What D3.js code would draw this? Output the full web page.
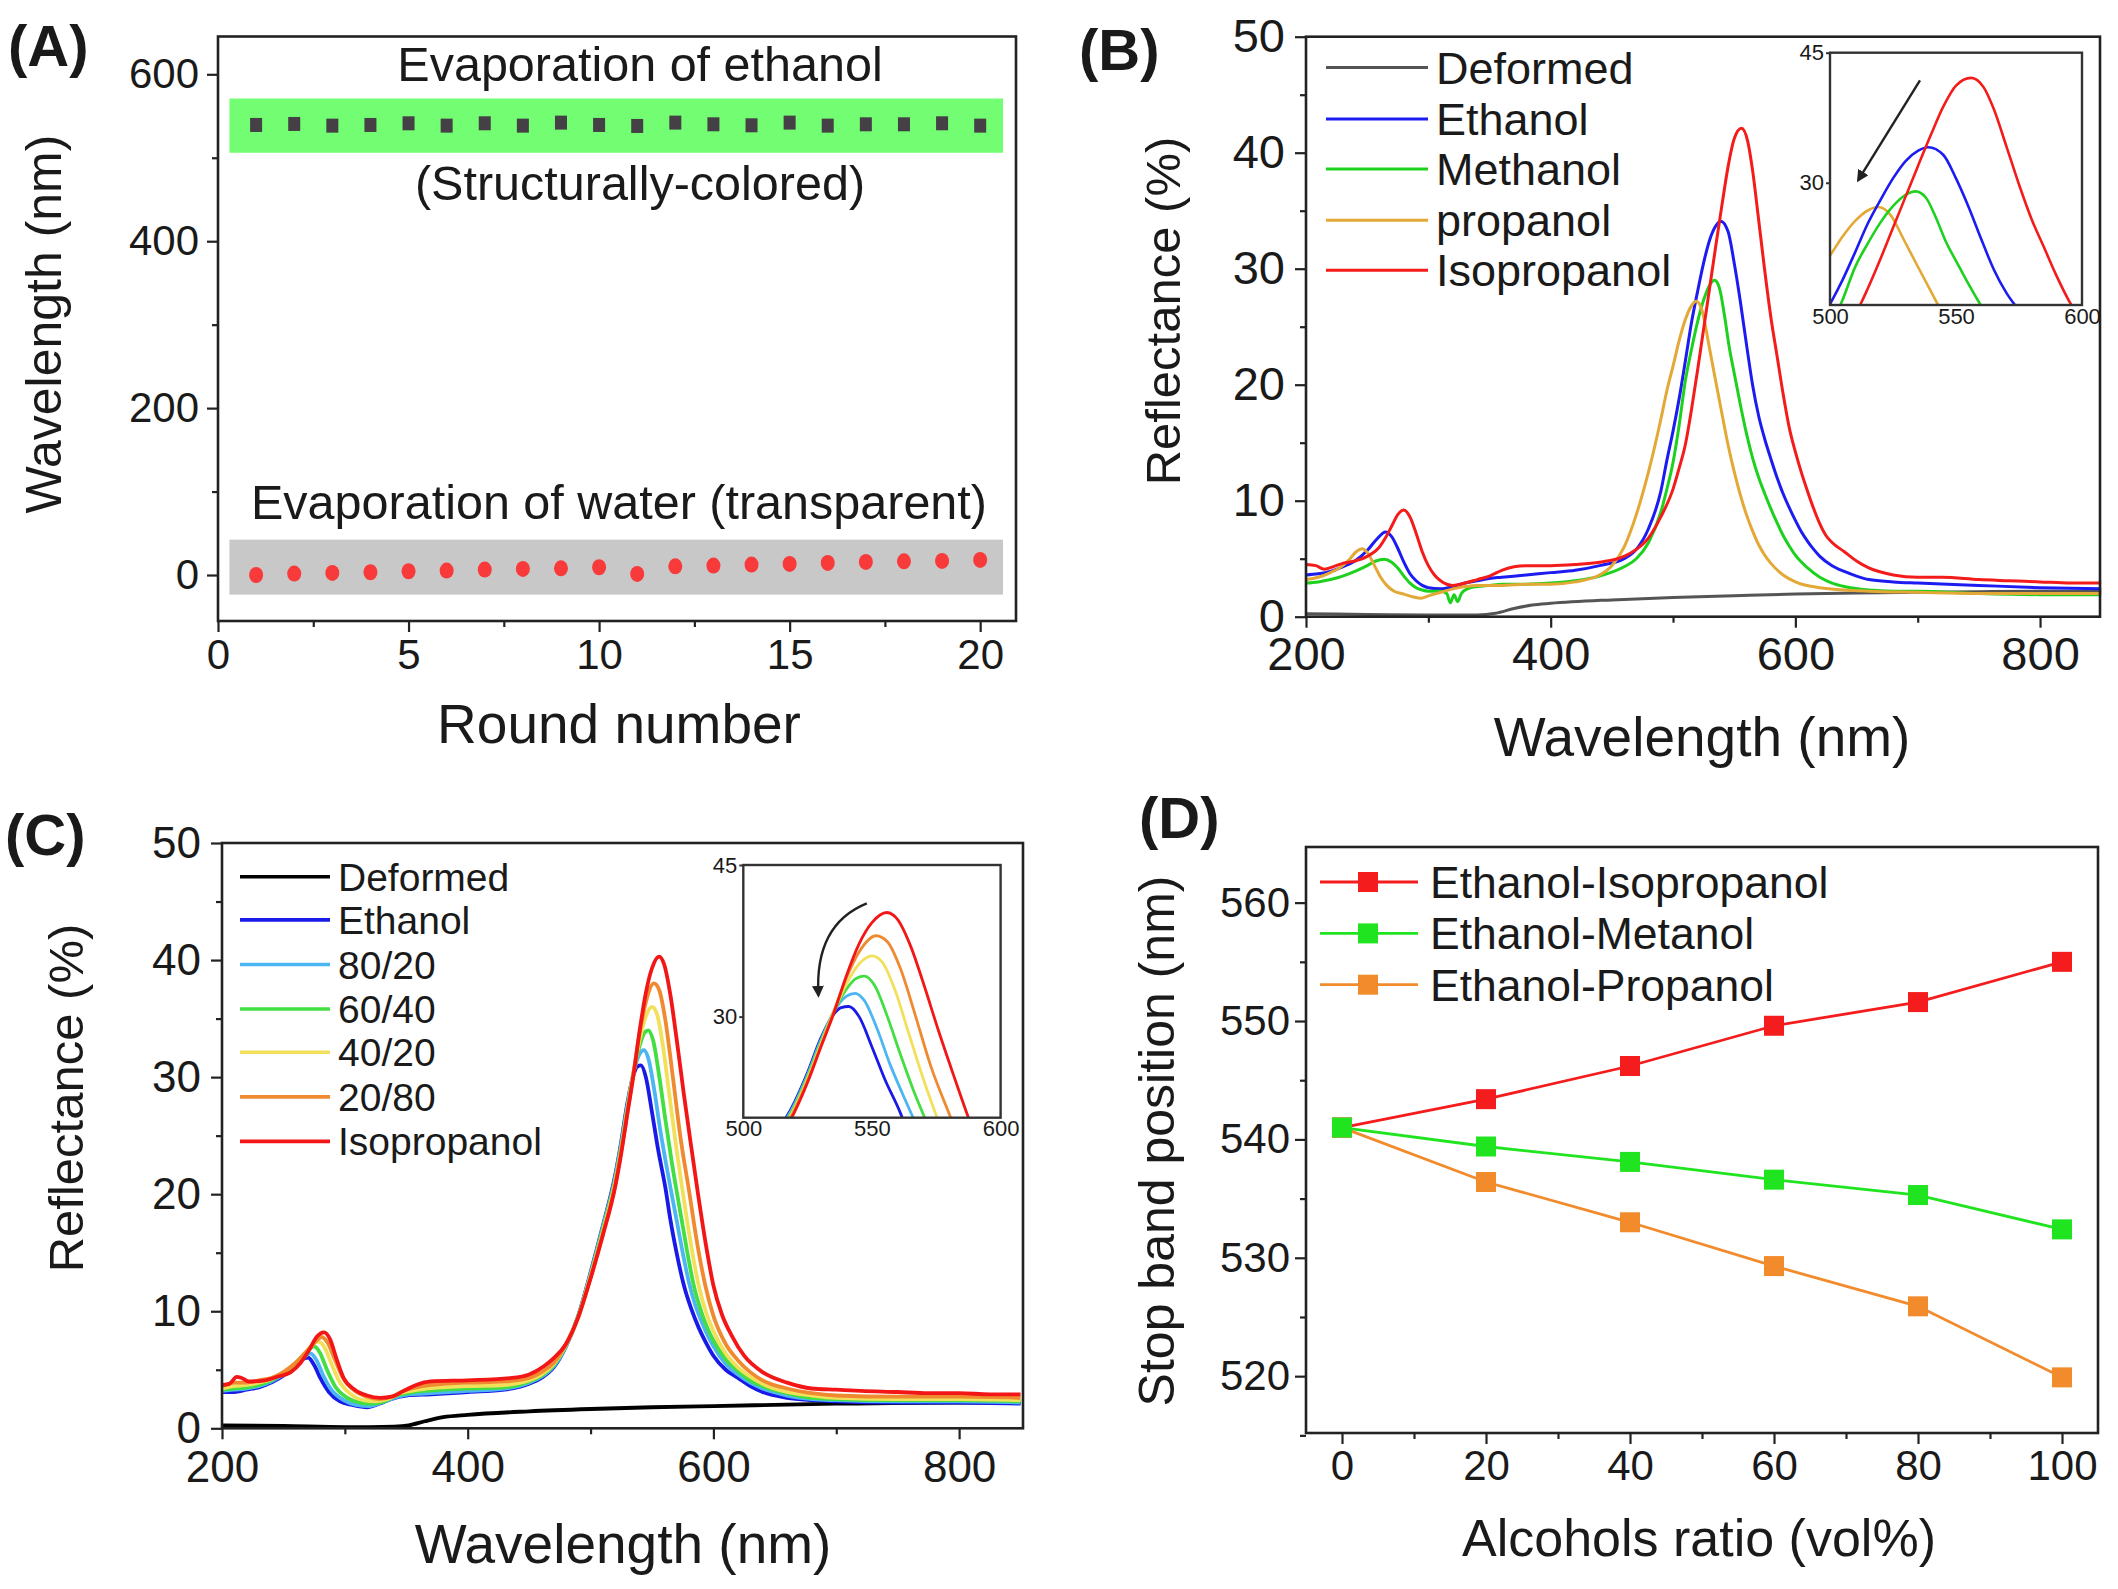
<!DOCTYPE html>
<html><head><meta charset="utf-8">
<script src="https://cdn.jsdelivr.net/npm/d3@7"></script>
<style>
body{margin:0;background:#fff;}
svg{display:block;}
text{font-family:"Liberation Sans",Arial,Helvetica,sans-serif;fill:#1a1a1a;}
</style>
</head><body>
<svg id="fig" width="2118" height="1589"></svg>
<script>
// ---------------- DATA ----------------
// Panel A
const roundNumbers = [1,2,3,4,5,6,7,8,9,10,11,12,13,14,15,16,17,18,19,20];
const ethanolEvap = [539.3,540.5,538.5,539.3,541.3,538.5,541.3,538.5,542.1,539.3,538.1,542.1,540.1,538.9,542.1,538.5,540.1,540.1,541.3,538.5];
const waterEvap = [0,1.7,2.5,3.3,4.5,5.3,6.5,7.3,8,9.3,1.3,10.4,11.3,12.5,13.3,14.5,15.7,16.4,16.9,18.1];
const greenBand = [0.3,20.6,506,571];
const grayBand = [0.3,20.6,-23.5,42.4];
const aXTicks = [0,5,10,15,20];
const aYTicks = [0,200,400,600];

// Panel B  [wavelength nm, reflectance %]
const bNames = ["Deformed","Ethanol","Methanol","propanol","Isopropanol"];
const bColors = ["#555555","#1c1cf2","#1fd11f","#e3a835","#f41b1b"];
const bDeformed = [[200,0.25],[250,0.2],[300,0.15],[340,0.15],[355,0.3],[370,0.7],[385,1.0],[400,1.15],[450,1.45],[500,1.65],[550,1.8],[600,1.95],[650,2.05],[700,2.1],[750,2.15],[800,2.2],[850,2.2]];
const bEthanol = [[200,3.6],[210,3.7],[220,3.9],[230,4.3],[240,4.8],[250,5.7],[258,6.7],[265,7.3],[270,6.9],[275,5.9],[280,4.7],[285,3.7],[290,3.1],[295,2.7],[300,2.5],[310,2.4],[320,2.6],[330,2.9],[340,3.1],[350,3.3],[360,3.4],[380,3.6],[400,3.8],[420,4.0],[440,4.4],[460,5.0],[470,5.8],[480,7.6],[490,10.8],[495,13.5],[500,16.0],[505,18.8],[510,22.0],[515,25.3],[520,28.0],[525,30.5],[530,32.5],[535,33.7],[539,34.1],[545,33.2],[550,30.5],[555,27.2],[560,23.5],[565,20.0],[570,17.3],[575,15.3],[580,13.6],[585,12.0],[590,10.6],[595,9.4],[600,8.3],[605,7.3],[610,6.5],[615,5.8],[620,5.2],[630,4.4],[640,3.9],[650,3.5],[660,3.2],[680,3.0],[700,2.9],[750,2.7],[800,2.5],[850,2.4]];
const bMethanol = [[200,2.9],[210,3.0],[220,3.2],[230,3.5],[240,3.9],[250,4.4],[257,4.8],[264,4.95],[270,4.7],[275,4.2],[280,3.5],[285,2.9],[290,2.5],[295,2.3],[300,2.2],[310,2.2],[315,2.0],[318,1.2],[321,1.9],[324,1.3],[327,2.0],[332,2.4],[340,2.6],[350,2.7],[360,2.8],[380,2.8],[400,2.9],[420,3.1],[440,3.5],[460,4.3],[470,5.0],[480,6.4],[490,9.0],[495,11.0],[500,13.3],[505,16.5],[510,20.3],[515,23.0],[520,25.4],[525,27.3],[530,28.6],[534,29.0],[538,28.3],[542,26.0],[546,23.2],[550,21.0],[555,18.3],[560,15.8],[565,13.7],[570,12.0],[575,10.6],[580,9.3],[585,8.1],[590,7.0],[595,6.1],[600,5.3],[610,4.2],[620,3.4],[630,2.9],[640,2.6],[660,2.3],[680,2.2],[700,2.2],[750,2.0],[800,1.9],[850,1.9]];
const bPropanol = [[200,3.2],[210,3.4],[220,3.8],[230,4.4],[236,5.0],[241,5.6],[246,5.85],[251,5.4],[256,4.4],[261,3.4],[266,2.7],[272,2.2],[280,1.95],[288,1.7],[294,1.6],[300,1.8],[310,2.1],[320,2.4],[330,2.6],[340,2.7],[360,2.7],[380,2.8],[400,2.8],[420,3.0],[440,3.6],[450,4.4],[460,6.0],[470,8.8],[480,12.5],[490,17.0],[495,19.5],[500,21.6],[505,23.8],[510,25.6],[515,26.8],[519,27.2],[524,26.3],[529,23.6],[534,20.8],[540,17.5],[545,14.8],[550,12.5],[555,10.5],[560,8.8],[565,7.4],[570,6.2],[575,5.3],[580,4.6],[590,3.6],[600,3.0],[620,2.5],[640,2.3],[660,2.2],[700,2.1],[750,2.0],[800,2.0],[850,2.0]];
const bIsopropanol = [[200,4.5],[208,4.4],[215,4.1],[222,4.3],[230,4.6],[240,4.8],[250,5.2],[260,6.0],[265,6.8],[270,7.8],[275,8.8],[280,9.2],[285,8.6],[290,7.2],[295,5.6],[300,4.4],[305,3.6],[310,3.1],[320,2.7],[330,2.9],[340,3.2],[350,3.5],[360,4.0],[370,4.3],[380,4.4],[400,4.4],[420,4.5],[440,4.7],[460,5.2],[470,5.8],[480,6.8],[490,8.6],[500,11.0],[505,12.8],[510,14.8],[515,17.8],[520,21.2],[525,24.8],[530,28.4],[535,32.0],[540,35.5],[545,38.8],[550,41.2],[556,42.1],[561,41.0],[565,38.5],[570,34.2],[575,29.8],[580,25.8],[585,22.5],[590,19.2],[595,16.3],[600,14.2],[605,12.4],[610,10.8],[615,9.3],[620,8.0],[625,7.0],[630,6.4],[640,5.6],[650,4.8],[660,4.2],[680,3.6],[700,3.4],[720,3.4],[750,3.2],[775,3.1],[800,3.0],[825,2.9],[850,2.9]];

// Panel C
const cNames = ["Deformed","Ethanol","80/20","60/40","40/20","20/80","Isopropanol"];
const cColors = ["#000000","#1a1ae8","#4cb6f2","#42de42","#f2e05a","#f08a30","#f31616"];
const cDeformed = [[200,0.25],[250,0.2],[300,0.1],[340,0.15],[352,0.25],[365,0.6],[380,0.95],[400,1.15],[450,1.45],[500,1.65],[550,1.8],[600,1.9],[700,2.1],[800,2.2],[850,2.2]];
const cEthanol = [[200,3.1],[210,3.1],[220,3.3],[230,3.5],[240,3.9],[250,4.5],[258,5.3],[265,5.9],[270,6.05],[275,5.4],[280,4.3],[287,3.1],[296,2.3],[306,2.0],[318,1.8],[328,2.1],[338,2.5],[350,2.8],[370,2.9],[400,3.1],[430,3.3],[450,3.8],[460,4.3],[470,5.2],[480,7.0],[490,9.6],[500,13.3],[510,17.3],[520,21.6],[525,24.5],[530,27.8],[535,30.2],[538,30.9],[541,31.0],[545,30.0],[550,27.0],[555,23.8],[561,20.5],[565,17.8],[570,15.0],[576,12.2],[582,10.2],[588,8.6],[594,7.3],[600,6.2],[610,5.0],[620,4.3],[630,3.6],[640,3.1],[660,2.6],[680,2.4],[700,2.3],[750,2.2],[800,2.2],[850,2.1]];
const c8020 = [[200,3.2],[210,3.3],[220,3.4],[230,3.6],[240,4.0],[250,4.6],[260,5.4],[267,6.1],[272,6.4],[277,5.8],[282,4.6],[289,3.3],[299,2.4],[309,2.0],[320,1.9],[330,2.2],[340,2.6],[352,2.9],[370,3.0],[400,3.2],[430,3.4],[450,3.9],[460,4.4],[470,5.3],[480,7.0],[490,9.6],[500,13.2],[510,17.2],[520,21.4],[525,24.3],[530,27.6],[535,30.4],[540,32.0],[543.5,32.3],[547,31.6],[552,28.8],[557,25.3],[562,22.3],[566,20.0],[570,17.8],[575,15.0],[580,12.5],[585,10.6],[590,9.2],[595,8.0],[600,7.0],[610,5.5],[620,4.6],[630,3.9],[640,3.4],[660,2.8],[680,2.5],[700,2.4],[750,2.3],[800,2.3],[850,2.2]];
const c6040 = [[200,3.3],[210,3.4],[220,3.5],[230,3.7],[240,4.1],[250,4.7],[260,5.5],[268,6.4],[275,7.0],[280,6.4],[285,5.1],[292,3.6],[302,2.6],[312,2.2],[322,2.1],[332,2.3],[342,2.8],[356,3.1],[380,3.3],[400,3.4],[430,3.5],[450,4.0],[460,4.5],[470,5.4],[480,7.1],[490,9.6],[500,13.1],[510,17.0],[520,21.2],[525,24.1],[530,27.4],[535,30.4],[540,32.7],[544,33.8],[547,34.0],[551,33.1],[556,30.0],[561,26.3],[566,22.8],[570.5,20.0],[575,17.3],[580,14.3],[584,12.2],[590,10.0],[595,8.6],[600,7.5],[610,5.9],[620,4.9],[630,4.1],[640,3.6],[660,3.0],[680,2.6],[700,2.5],[750,2.4],[800,2.4],[850,2.3]];
const c4020 = [[200,3.4],[210,3.6],[220,3.7],[230,3.9],[240,4.2],[250,4.8],[260,5.6],[270,6.7],[278,7.4],[283,7.0],[288,5.8],[295,4.1],[305,2.9],[315,2.4],[325,2.3],[335,2.5],[345,3.0],[360,3.3],[380,3.5],[400,3.6],[430,3.7],[450,4.1],[460,4.6],[470,5.5],[480,7.1],[490,9.5],[500,13.0],[510,16.8],[520,21.0],[525,23.9],[530,27.2],[535,30.4],[540,33.2],[545,35.2],[550,36.0],[554,35.4],[559,32.6],[564,28.6],[570,23.8],[575.3,20.0],[580,16.8],[588,12.2],[594,9.9],[600,8.3],[610,6.4],[620,5.2],[630,4.4],[640,3.8],[660,3.1],[680,2.8],[700,2.6],[750,2.5],[800,2.5],[850,2.4]];
const c2080 = [[200,3.6],[210,3.9],[220,3.9],[230,4.1],[240,4.3],[250,4.8],[260,5.6],[270,6.7],[276,7.4],[281,7.8],[286,7.3],[291,6.1],[298,4.4],[308,3.2],[318,2.7],[328,2.5],[338,2.7],[348,3.2],[363,3.6],[380,3.8],[400,3.9],[430,4.0],[450,4.3],[460,4.8],[470,5.6],[480,7.2],[490,9.5],[500,12.9],[510,16.6],[520,20.8],[525,23.7],[530,27.0],[535,30.4],[540,33.8],[545,36.4],[551.6,38.0],[556,37.4],[561,34.8],[567,30.0],[573,25.0],[580.6,20.0],[586,16.3],[593.4,12.2],[600,9.6],[610,7.2],[620,5.8],[630,4.8],[640,4.1],[660,3.4],[680,3.0],[700,2.8],[750,2.7],[800,2.7],[850,2.6]];
const cIsopropanol = [[200,3.7],[206,3.8],[212,4.4],[216,4.3],[222,4.0],[235,4.1],[245,4.4],[256,4.8],[264,5.6],[271,6.7],[277,7.8],[283,8.2],[288,7.6],[293,6.0],[299,4.3],[308,3.3],[318,2.8],[329,2.6],[338,2.7],[348,3.2],[358,3.7],[370,4.0],[400,4.1],[436,4.3],[450,4.6],[462,5.3],[470,6.0],[480,7.2],[490,9.5],[500,12.8],[510,16.5],[520,20.6],[525,23.5],[530,26.9],[535,30.2],[540,34.0],[545,37.2],[550,39.3],[555.8,40.3],[560,39.6],[565,37.0],[570,33.3],[576,28.5],[582,24.0],[587.5,20.0],[594,15.6],[600,12.2],[607,9.7],[615,7.9],[625,6.2],[640,4.8],[660,3.9],[680,3.4],[700,3.3],[720,3.2],[750,3.1],[775,3.0],[800,3.0],[825,2.9],[850,2.9]];

// Panel D
const ratios = [0,20,40,60,80,100];
const dNames = ["Ethanol-Isopropanol","Ethanol-Metanol","Ethanol-Propanol"];
const dColors = ["#f41c1c","#1fe41f","#f28b2c"];
const dIsopropanol = [541,543.4,546.2,549.6,551.6,555];
const dMetanol = [541,539.4,538.1,536.6,535.3,532.4];
const dPropanol = [541,536.4,533,529.3,525.9,519.9];

// ---------------- DRAWING ----------------
const svg = d3.select('#fig');
const FRAME = '#222';
const defs = svg.append('defs');
defs.append('marker').attr('id','ah').attr('viewBox','0 0 10 10').attr('refX',8).attr('refY',5)
  .attr('markerWidth',5).attr('markerHeight',5).attr('orient','auto-start-reverse').attr('markerUnits','strokeWidth')
  .append('path').attr('d','M0,0 L10,5 L0,10 z').attr('fill','#222');

function panel(o){
  const x = d3.scaleLinear().domain(o.xd).range([o.x0,o.x1]);
  const y = d3.scaleLinear().domain(o.yd).range([o.y1,o.y0]);
  const g = svg.append('g');
  const fmt = d3.format('d');
  g.append('g').attr('transform',`translate(0,${o.y1})`)
    .call(d3.axisBottom(x).tickValues(o.xMaj).tickSize(11).tickPadding(o.xPad).tickFormat(fmt));
  g.append('g').attr('transform',`translate(0,${o.y1})`)
    .call(d3.axisBottom(x).tickValues(o.xMin).tickSize(6).tickFormat(''));
  g.append('g').attr('transform',`translate(${o.x0},0)`)
    .call(d3.axisLeft(y).tickValues(o.yMaj).tickSize(11).tickPadding(o.yPad).tickFormat(fmt));
  g.append('g').attr('transform',`translate(${o.x0},0)`)
    .call(d3.axisLeft(y).tickValues(o.yMin).tickSize(6).tickFormat(''));
  g.selectAll('.domain').remove();
  g.selectAll('.tick line').attr('stroke',FRAME).attr('stroke-width',2.2);
  g.selectAll('.tick text').style('font-size',o.tf+'px').attr('fill','#1a1a1a');
  const plot = g.append('g');
  g.append('rect').attr('x',o.x0).attr('y',o.y0).attr('width',o.x1-o.x0).attr('height',o.y1-o.y0)
    .attr('fill','none').attr('stroke',FRAME).attr('stroke-width',2.6);
  return {x,y,g,plot};
}
function label(txt,x,y){
  svg.append('text').attr('x',x).attr('y',y).text(txt).style('font-size','58px').style('font-weight','bold');
}
function xTitle(txt,cx,by,fs){
  svg.append('text').attr('x',cx).attr('y',by).attr('text-anchor','middle').text(txt).style('font-size',fs+'px').attr('fill','#222');
}
function yTitle(txt,cx,cy,fs){
  svg.append('text').attr('transform',`translate(${cx},${cy}) rotate(-90)`).attr('dy','0.35em')
    .attr('text-anchor','middle').text(txt).style('font-size',fs+'px').attr('fill','#222');
}

// ---- Panel A ----
{
  const P = panel({x0:218,x1:1016,y0:36.5,y1:621,xd:[0,20.94],yd:[-55.1,645.3],
    xMaj:aXTicks,xMin:[2.5,7.5,12.5,17.5],yMaj:aYTicks,yMin:[100,300,500],tf:42,xPad:7,yPad:8});
  const {x,y,plot} = P;
  plot.append('rect').attr('x',x(greenBand[0])).attr('width',x(greenBand[1])-x(greenBand[0]))
    .attr('y',y(greenBand[3])).attr('height',y(greenBand[2])-y(greenBand[3])).attr('fill','#72fd72');
  plot.append('rect').attr('x',x(grayBand[0])).attr('width',x(grayBand[1])-x(grayBand[0]))
    .attr('y',y(grayBand[3])).attr('height',y(grayBand[2])-y(grayBand[3])).attr('fill','#c8c8c8');
  plot.selectAll('rect.sq').data(roundNumbers).join('rect').attr('class','sq')
    .attr('x',(d)=>x(d)-6).attr('y',(d,i)=>y(ethanolEvap[i])-7).attr('width',12).attr('height',14).attr('fill','#454045');
  plot.selectAll('ellipse').data(roundNumbers).join('ellipse')
    .attr('cx',d=>x(d)).attr('cy',(d,i)=>y(waterEvap[i])).attr('rx',7).attr('ry',8).attr('fill','#f83a3a');
  const t = (s,cx,by)=>svg.append('text').attr('x',cx).attr('y',by).attr('text-anchor','middle').text(s).style('font-size','48.5px').attr('fill','#111');
  t('Evaporation of ethanol',640,81);
  t('(Structurally-colored)',640,200);
  t('Evaporation of water (transparent)',619,519);
  label('(A)',8,66);
  yTitle('Wavelength (nm)',43,324,50);
  xTitle('Round number',619,743,55);
}

// spectra helper
function drawSpectra(P, series, colors, width){
  const line = d3.line().x(d=>P.x(d[0])).y(d=>P.y(d[1])).curve(d3.curveMonotoneX);
  series.forEach((s,i)=>{
    P.plot.append('path').datum(s).attr('d',line).attr('fill','none').attr('stroke',colors[i])
      .attr('stroke-width',width).attr('stroke-linejoin','round');
  });
}
function inset(o, series, colors, width){
  const x = d3.scaleLinear().domain(o.xd).range([o.x0,o.x1]);
  const y = d3.scaleLinear().domain(o.yd).range([o.y1,o.y0]);
  const id = 'clip'+o.id;
  defs.append('clipPath').attr('id',id).append('rect').attr('x',o.x0).attr('y',o.y0).attr('width',o.x1-o.x0).attr('height',o.y1-o.y0);
  const g = svg.append('g');
  g.append('rect').attr('x',o.x0).attr('y',o.y0).attr('width',o.x1-o.x0).attr('height',o.y1-o.y0).attr('fill','#fff');
  const line = d3.line().x(d=>x(d[0])).y(d=>y(d[1])).curve(d3.curveMonotoneX);
  const cg = g.append('g').attr('clip-path',`url(#${id})`);
  series.forEach((s,i)=>{
    cg.append('path').datum(s).attr('d',line).attr('fill','none').attr('stroke',colors[i]).attr('stroke-width',width);
  });
  g.append('rect').attr('x',o.x0).attr('y',o.y0).attr('width',o.x1-o.x0).attr('height',o.y1-o.y0)
    .attr('fill','none').attr('stroke','#333').attr('stroke-width',2.4);
  g.append('g').attr('transform',`translate(${o.x0},0)`)
    .call(d3.axisLeft(y).tickValues(o.yt).tickSize(4).tickPadding(2).tickFormat(d3.format('d')));
  g.append('g').attr('transform',`translate(0,${o.y1})`)
    .call(d3.axisBottom(x).tickValues(o.xt).tickSize(0).tickPadding(3).tickFormat(d3.format('d')));
  g.selectAll('.domain').remove();
  g.selectAll('.tick line').attr('stroke','#333').attr('stroke-width',2);
  g.selectAll('.tick text').style('font-size',o.tf+'px').attr('fill','#444');
  return {x,y,g};
}
function legendLines(names, colors, lx0, lx1, tx, ys, fs, w){
  names.forEach((n,i)=>{
    svg.append('line').attr('x1',lx0).attr('x2',lx1).attr('y1',ys[i]).attr('y2',ys[i]).attr('stroke',colors[i]).attr('stroke-width',w);
    svg.append('text').attr('x',tx).attr('y',ys[i]).attr('dy','0.36em').text(n).style('font-size',fs+'px').attr('fill','#1a1a1a');
  });
}

// ---- Panel B ----
{
  const P = panel({x0:1306,x1:2100,y0:36.7,y1:616.7,xd:[200,849],yd:[0,50],
    xMaj:[200,400,600,800],xMin:[300,500,700],yMaj:[0,10,20,30,40,50],yMin:[5,15,25,35,45],tf:47,xPad:9,yPad:10});
  const series = [bDeformed,bEthanol,bMethanol,bPropanol,bIsopropanol];
  drawSpectra(P, series, bColors, 3);
  const I = inset({id:'B',x0:1830,x1:2082,y0:52.7,y1:305,xd:[500,600],yd:[15.9,45],yt:[30,45],xt:[500,550,600],tf:22},
    [bPropanol,bMethanol,bEthanol,bIsopropanol],[bColors[3],bColors[2],bColors[1],bColors[4]],2.6);
  I.g.append('line').attr('x1',I.x(535.7)).attr('y1',I.y(41.8)).attr('x2',I.x(511.2)).attr('y2',I.y(30.3))
    .attr('stroke','#222').attr('stroke-width',2.4).attr('marker-end','url(#ah)');
  legendLines(bNames,bColors,1326,1428,1436,[67.5,118.9,168.9,220.2,270.2],45,3);
  label('(B)',1079,70);
  yTitle('Reflectance (%)',1163,311,49);
  xTitle('Wavelength (nm)',1702,756,55);
}

// ---- Panel C ----
{
  const P = panel({x0:222,x1:1023,y0:843,y1:1428.3,xd:[200,852],yd:[0,50],
    xMaj:[200,400,600,800],xMin:[300,500,700],yMaj:[0,10,20,30,40,50],yMin:[5,15,25,35,45],tf:44,xPad:11,yPad:10});
  const series = [cDeformed,cEthanol,c8020,c6040,c4020,c2080,cIsopropanol];
  drawSpectra(P, series, cColors, 3.8);
  const I = inset({id:'C',x0:743.3,x1:1000.6,y0:865,y1:1117.7,xd:[500,600],yd:[20,45],yt:[30,45],xt:[500,550,600],tf:22},
    series.slice(1), cColors.slice(1), 2.8);
  const p = d3.path();
  p.moveTo(I.x(548),I.y(41.2));
  p.quadraticCurveTo(I.x(527.6),I.y(39.1),I.x(529.2),I.y(32.1));
  I.g.append('path').attr('d',p.toString()).attr('fill','none').attr('stroke','#222').attr('stroke-width',2.4).attr('marker-end','url(#ah)');
  legendLines(cNames,cColors,240,330,338,[876.7,919.9,964.5,1009,1052.3,1096.9,1141.4],39,3.6);
  label('(C)',5,855);
  yTitle('Reflectance (%)',66,1098,49);
  xTitle('Wavelength (nm)',623,1563,55);
}

// ---- Panel D ----
{
  const P = panel({x0:1306,x1:2098,y0:847,y1:1433,xd:[-5,105],yd:[515.2,564.7],
    xMaj:[0,20,40,60,80,100],xMin:[10,30,50,70,90],yMaj:[520,530,540,550,560],yMin:[515,525,535,545,555],tf:42,xPad:6,yPad:5});
  const {x,y,plot} = P;
  const sets = [dIsopropanol,dMetanol,dPropanol];
  const line = d3.line().x((d,i)=>x(ratios[i])).y(d=>y(d));
  sets.forEach((s,i)=>{
    plot.append('path').datum(s).attr('d',line).attr('fill','none').attr('stroke',dColors[i]).attr('stroke-width',2.8);
  });
  [0,2,1].forEach(i=>{
    plot.selectAll(null).data(sets[i]).join('rect')
      .attr('x',(d,j)=>x(ratios[j])-10).attr('y',d=>y(d)-10).attr('width',20).attr('height',20).attr('fill',dColors[i]);
  });
  const ly = [882,933.4,984.7];
  dNames.forEach((n,i)=>{
    svg.append('line').attr('x1',1320).attr('x2',1418).attr('y1',ly[i]).attr('y2',ly[i]).attr('stroke',dColors[i]).attr('stroke-width',2.8);
    svg.append('rect').attr('x',1358).attr('y',ly[i]-10).attr('width',20).attr('height',20).attr('fill',dColors[i]);
    svg.append('text').attr('x',1430).attr('y',ly[i]).attr('dy','0.36em').text(n).style('font-size','44.5px').attr('fill','#1a1a1a');
  });
  label('(D)',1139,838);
  yTitle('Stop band position (nm)',1156,1141,50);
  xTitle('Alcohols ratio (vol%)',1699,1556,52);
}
</script>
</body></html>
